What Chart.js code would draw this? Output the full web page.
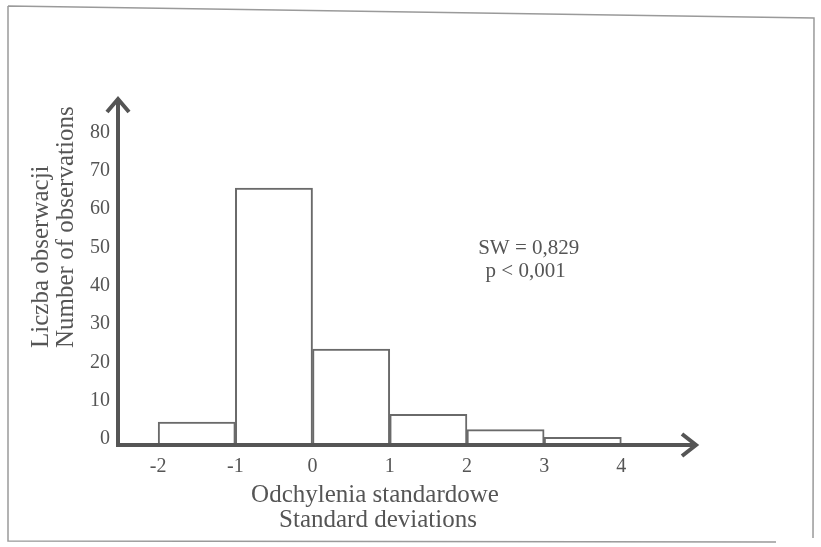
<!DOCTYPE html>
<html>
<head>
<meta charset="utf-8">
<script src="https://cdn.jsdelivr.net/npm/chart.js@4"></script>
<style>
  html, body { margin: 0; padding: 0; background: #fff; }
  #wrap { width: 821px; height: 547px; }
</style>
</head>
<body>
<div id="wrap"><canvas id="hist"></canvas></div>
<script>
// histogram classes (bin centres) and counts
const binCentres = [-1.5, -0.5, 0.5, 1.5, 2.5, 3.5]
const counts = [6, 67, 25, 8, 4, 2]
const xTicks = [-2, -1, 0, 1, 2, 3, 4]
const yTicks = [0, 10, 20, 30, 40, 50, 60, 70, 80]
const yTitle = ["Liczba obserwacji", "Number of observations"]
const xTitle = ["Odchylenia standardowe", "Standard deviations"]
const statLines = ["SW = 0,829", "p < 0,001"]

const ink = "#555555"
const serif = "'Liberation Serif', 'Times New Roman', serif"

// axes with arrowheads, axis titles, stats note and the outer frame
const decorPlugin = {
    id: "decor",
    afterDatasetsDraw(chart) {
        const ctx = chart.ctx
        const a = chart.chartArea
        const x = chart.scales.x
        const y = chart.scales.y
        const y0 = y.getPixelForValue(0)
        ctx.save()
        ctx.strokeStyle = ink
        ctx.lineWidth = 4
        // y axis
        ctx.beginPath()
        ctx.moveTo(a.left, y0 + 2)
        ctx.lineTo(a.left, a.top + 2)
        ctx.stroke()
        ctx.beginPath()
        ctx.moveTo(a.left - 11, a.top + 14)
        ctx.lineTo(a.left, a.top + 1)
        ctx.lineTo(a.left + 11, a.top + 14)
        ctx.stroke()
        // x axis
        ctx.beginPath()
        ctx.moveTo(a.left - 2, y0)
        ctx.lineTo(a.right - 2, y0)
        ctx.stroke()
        ctx.beginPath()
        ctx.moveTo(a.right - 15, y0 - 11)
        ctx.lineTo(a.right - 1, y0)
        ctx.lineTo(a.right - 15, y0 + 11)
        ctx.stroke()

        ctx.fillStyle = ink
        ctx.textBaseline = "middle"

        // y title, two rotated lines starting at the same height
        ctx.font = "25px " + serif
        ctx.save()
        ctx.translate(41, 348)
        ctx.rotate(-Math.PI / 2)
        ctx.textAlign = "left"
        ctx.fillText(yTitle[0], 0, 0)
        ctx.fillText(yTitle[1], 0, 25)
        ctx.restore()

        // x title
        ctx.textAlign = "center"
        ctx.fillText(xTitle[0], 375, 495)
        ctx.fillText(xTitle[1], 378, 520)

        // statistics note
        ctx.font = "21px " + serif
        ctx.fillText(statLines[0], x.getPixelForValue(2.8), y.getPixelForValue(51.2))
        ctx.fillText(statLines[1], x.getPixelForValue(2.76), y.getPixelForValue(45.2))

        // frame round the figure
        ctx.strokeStyle = "#9a9a9a"
        ctx.lineWidth = 1.5
        ctx.beginPath()
        ctx.moveTo(8, 6)
        ctx.lineTo(814, 18)
        ctx.lineTo(813, 538)
        ctx.moveTo(776, 542)
        ctx.lineTo(8, 541)
        ctx.lineTo(8, 6)
        ctx.stroke()
        ctx.restore()
    }
}

new Chart(document.getElementById("hist"), {
    type: "bar",
    data: {
        datasets: [{
            data: binCentres.map((c, i) => ({ x: c, y: counts[i] })),
            backgroundColor: "#ffffff",
            borderColor: "#6a6a6a",
            borderWidth: 2,
            borderSkipped: "bottom",
            barPercentage: 1,
            categoryPercentage: 1
        }]
    },
    options: {
        responsive: true,
        maintainAspectRatio: false,
        animation: false,
        layout: { padding: { left: 82, right: 124, top: 98, bottom: 58 } },
        plugins: {
            legend: { display: false },
            tooltip: { enabled: false }
        },
        scales: {
            x: {
                type: "linear",
                offset: false,
                min: -2.52,
                max: 4.98,
                afterBuildTicks: s => { s.ticks = xTicks.map(v => ({ value: v })) },
                grid: { display: false, drawTicks: false },
                border: { display: false },
                ticks: {
                    color: ink,
                    font: { family: serif, size: 20 },
                    padding: 10,
                    callback: v => String(v)
                }
            },
            y: {
                min: 0,
                max: 90.5,
                afterBuildTicks: s => { s.ticks = yTicks.map(v => ({ value: v })) },
                grid: { display: false, drawTicks: false },
                border: { display: false },
                ticks: {
                    color: ink,
                    font: { family: serif, size: 20 },
                    padding: 8,
                    labelOffset: -6
                }
            }
        }
    },
    plugins: [decorPlugin]
})
</script>
</body>
</html>
